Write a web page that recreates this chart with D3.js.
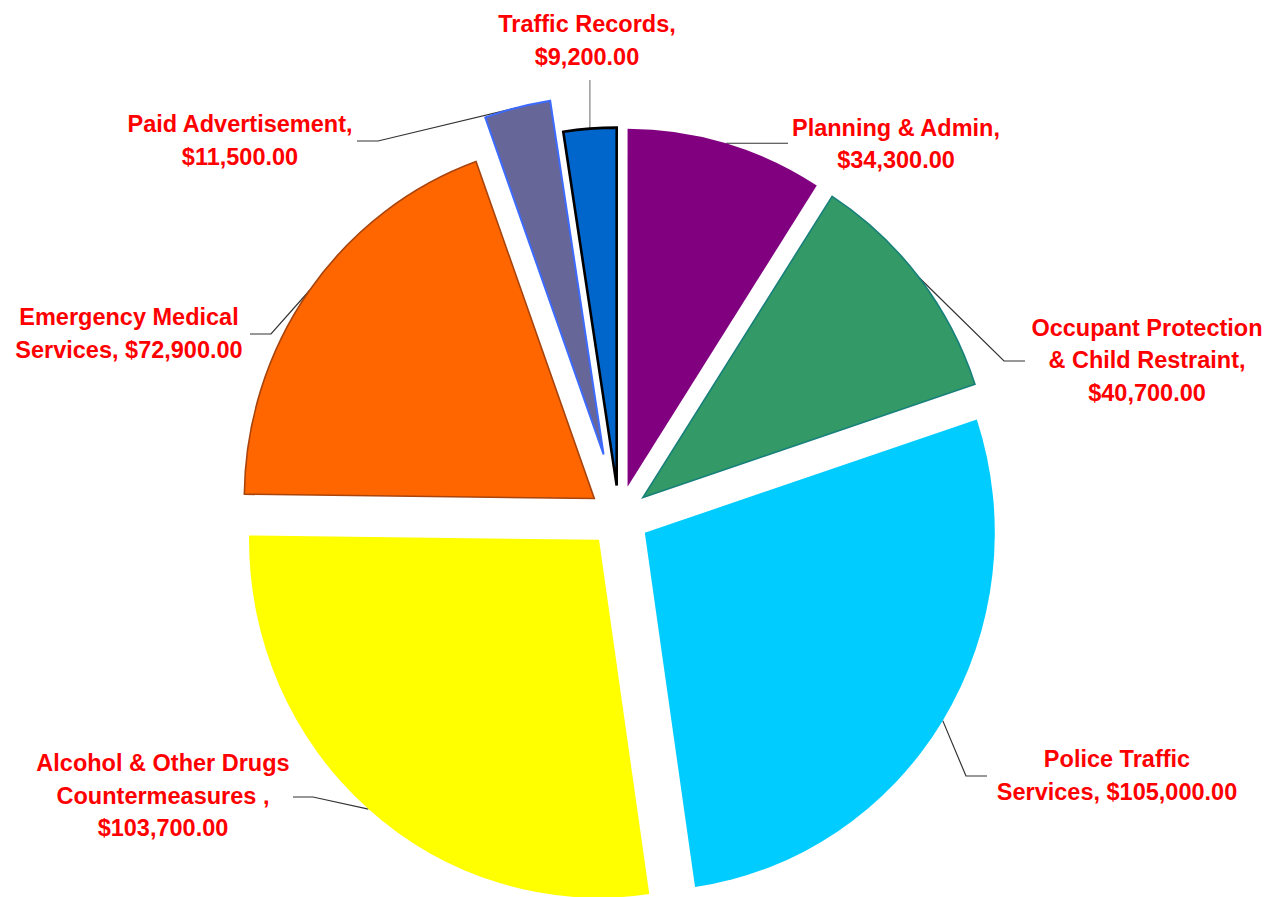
<!DOCTYPE html>
<html>
<head>
<meta charset="utf-8">
<script src="https://cdn.jsdelivr.net/npm/d3@7"></script>
<style>
  html, body { margin: 0; padding: 0; background: #ffffff; }
  svg { display: block; }
  .lbl { font-family: "Liberation Sans", Arial, sans-serif; font-weight: bold; font-size: 23.5px; fill: #ff0000; }
</style>
</head>
<body>
<svg id="chart" width="1278" height="897"></svg>
<script>
// Budget by program area
const categories = [
  "Planning & Admin",
  "Occupant Protection & Child Restraint",
  "Police Traffic Services",
  "Alcohol & Other Drugs Countermeasures",
  "Emergency Medical Services",
  "Paid Advertisement",
  "Traffic Records"
];
const amounts = [34300, 40700, 105000, 103700, 72900, 11500, 9200];

// Label text lines; {v} is replaced by the formatted amount
const labelLines = [
  ["Planning & Admin,", "{v}"],
  ["Occupant Protection", "& Child Restraint,", "{v}"],
  ["Police Traffic", "Services, {v}"],
  ["Alcohol & Other Drugs", "Countermeasures ,", "{v}"],
  ["Emergency Medical", "Services, {v}"],
  ["Paid Advertisement,", "{v}"],
  ["Traffic Records,", "{v}"]
];

const fills   = ["#800080", "#339966", "#00ccff", "#ffff00", "#ff6600", "#666699", "#0066cc"];
const strokes = ["none", "#17807a", "none", "none", "#a8440c", "#3d6bff", "#000000"];
const strokeW = [0, 1.6, 0, 0, 1.6, 2, 2.6];
const explode = [31, 31, 31, 31, 31, 64, 31];

// Label placement: text centre x, first baseline y, leader elbow, leader end
// (null means "same as the anchor on the slice edge")
const labelPos = [
  { x: 896,  y: 135.5, elbow: [788, null], end: [788, null] },
  { x: 1147, y: 335.5, elbow: [1004, 361], end: [1025, 361] },
  { x: 1117, y: 767,   elbow: [966, 776], end: [987, 776] },
  { x: 163,  y: 771,   elbow: [313, 797], end: [293, 797] },
  { x: 129,  y: 325,   elbow: [271, 334], end: [250, 334] },
  { x: 240,  y: 132,   elbow: [378, 141], end: [357, 141] },
  { x: 587,  y: 32,    elbow: [null, 80], end: [null, 80] }
];
const lineHeight = 32.6;

const cx = 619, cy = 516.5;
const R = 358;            // vertical radius
const kx = 350 / 358;     // horizontal squash of the plot area

const fmt = d3.format("$,.2f");
const svg = d3.select("#chart");

const pie = d3.pie().sort(null).value(d => d).startAngle(0).endAngle(2 * Math.PI);
const arcs = pie(amounts);
const arc = d3.arc().innerRadius(0).outerRadius(R);

const plot = svg.append("g")
  .attr("transform", `translate(${cx},${cy}) scale(${kx},1)`);

function offsetOf(d, i) {
  const mid = (d.startAngle + d.endAngle) / 2;
  return [Math.sin(mid) * explode[i], -Math.cos(mid) * explode[i]];
}

// Convert plot coordinates to page coordinates
function toPage(p) { return [cx + p[0] * kx, cy + p[1]]; }

// Leader lines (drawn under slices)
const leaders = svg.append("g").lower();
arcs.forEach((d, i) => {
  const mid = (d.startAngle + d.endAngle) / 2;
  const off = offsetOf(d, i);
  const anchor = toPage([off[0] + Math.sin(mid) * R, off[1] - Math.cos(mid) * R]);
  const lp = labelPos[i];
  const pick = (v, k) => (v == null ? anchor[k] : v);
  const elbow = [pick(lp.elbow[0], 0), pick(lp.elbow[1], 1)];
  const end = [pick(lp.end[0], 0), pick(lp.end[1], 1)];
  leaders.append("path")
    .attr("d", d3.line()([anchor, elbow, end]))
    .attr("fill", "none")
    .attr("stroke", i === 6 ? "#808080" : "#333333")
    .attr("stroke-width", 1.2);
});

// Slices
plot.selectAll("path.slice")
  .data(arcs)
  .join("path")
  .attr("class", "slice")
  .attr("transform", (d, i) => `translate(${offsetOf(d, i)})`)
  .attr("d", arc)
  .attr("fill", (d, i) => fills[i])
  .attr("stroke", (d, i) => strokes[i])
  .attr("stroke-width", (d, i) => strokeW[i])
  .attr("stroke-linejoin", "miter")
  .attr("vector-effect", "non-scaling-stroke");

// Data labels
const labels = svg.append("g");
arcs.forEach((d, i) => {
  const lp = labelPos[i];
  const t = labels.append("text")
    .attr("class", "lbl")
    .attr("text-anchor", "middle");
  labelLines[i].forEach((ln, j) => {
    t.append("tspan")
      .attr("x", lp.x)
      .attr("y", lp.y + j * lineHeight)
      .text(ln.replace("{v}", fmt(d.data)));
  });
});
</script>
</body>
</html>
